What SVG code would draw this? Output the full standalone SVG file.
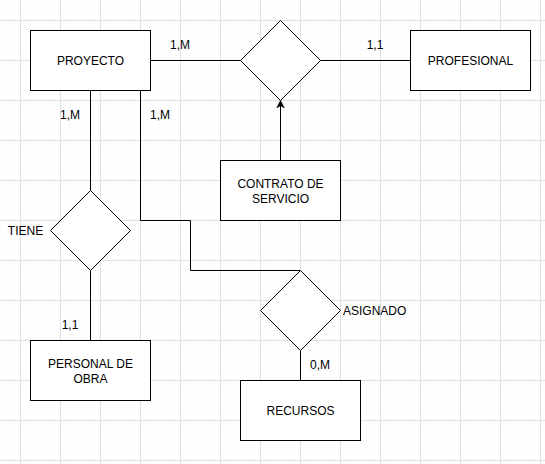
<svg xmlns="http://www.w3.org/2000/svg" width="545" height="464" viewBox="0 0 545 464">
<defs>
<pattern id="minor" width="10" height="10" patternUnits="userSpaceOnUse">
<path d="M10 0 V10 M0 10 H10" fill="none" stroke="#f3f3f3" stroke-width="1"/>
</pattern>
<pattern id="major" x="20" y="20" width="40" height="40" patternUnits="userSpaceOnUse">
<path d="M0.5 0 V40 M0 0.5 H40" fill="none" stroke="#e0e0e0" stroke-width="1"/>
</pattern>
<marker id="arrow" viewBox="0 0 10 10" refX="9" refY="5" markerWidth="8" markerHeight="9" markerUnits="userSpaceOnUse" orient="auto">
<path d="M0 0 L10 5 L0 10 L3 5 Z" fill="#000" stroke="#000" stroke-width="0.5"/>
</marker>
<style>
.box{fill:#fff;stroke:#000;stroke-width:1}
.dia{fill:#fff;stroke:#000;stroke-width:1}
.ln{fill:none;stroke:#000;stroke-width:1}
text{font-family:"Liberation Sans",Arial,sans-serif;font-size:12px;fill:#000}
.c{text-anchor:middle}
</style>
</defs>
<rect width="545" height="464" fill="#fff"/>
<rect width="545" height="464" fill="url(#minor)" transform="translate(0.5 0.5)"/>
<rect width="545" height="464" fill="url(#major)"/>
<g id="connectors">
<path class="ln" d="M150.5 60.5 H240.5"/>
<path class="ln" d="M320.5 60.5 H410.5"/>
<path class="ln" d="M280.5 160.5 V101" marker-end="url(#arrow)"/>
<path class="ln" d="M90.5 90.5 V190.5"/>
<path class="ln" d="M90.5 270.5 V340.5"/>
<path class="ln" d="M140.5 90.5 V220.5 H190.5 V270.5 H300.5"/>
<path class="ln" d="M300.5 350.5 V380.5"/>
<text class="c" x="180" y="49">1,M</text>
<text class="c" x="375" y="49">1,1</text>
<text class="c" x="70" y="119">1,M</text>
<text class="c" x="160" y="119">1,M</text>
<text class="c" x="70" y="329">1,1</text>
<text class="c" x="320" y="369">0,M</text>
</g>
<g id="proyecto">
<rect class="box" x="30.5" y="30.5" width="120" height="60"/>
<text class="c" x="90.5" y="64.5">PROYECTO</text>
</g>
<g id="contrato-rel">
<path class="dia" d="M280.5 20.5 L320.5 60.5 L280.5 100.5 L240.5 60.5 Z"/>
</g>
<g id="profesional">
<rect class="box" x="410.5" y="30.5" width="120" height="60"/>
<text class="c" x="470.5" y="64.5">PROFESIONAL</text>
</g>
<g id="contrato">
<rect class="box" x="220.5" y="160.5" width="120" height="60"/>
<text class="c" x="280.5" y="187.5">CONTRATO DE</text>
<text class="c" x="280.5" y="202.5">SERVICIO</text>
</g>
<g id="tiene">
<path class="dia" d="M90.5 190.5 L130.5 230.5 L90.5 270.5 L50.5 230.5 Z"/>
<text class="c" x="25.5" y="234.5">TIENE</text>
</g>
<g id="personal">
<rect class="box" x="30.5" y="340.5" width="120" height="60"/>
<text class="c" x="90.5" y="367.5">PERSONAL DE</text>
<text class="c" x="90.5" y="382.5">OBRA</text>
</g>
<g id="asignado">
<path class="dia" d="M300.5 270.5 L340.5 310.5 L300.5 350.5 L260.5 310.5 Z"/>
<text x="343" y="314.5">ASIGNADO</text>
</g>
<g id="recursos">
<rect class="box" x="240.5" y="380.5" width="120" height="60"/>
<text class="c" x="300.5" y="414.5">RECURSOS</text>
</g>
</svg>
